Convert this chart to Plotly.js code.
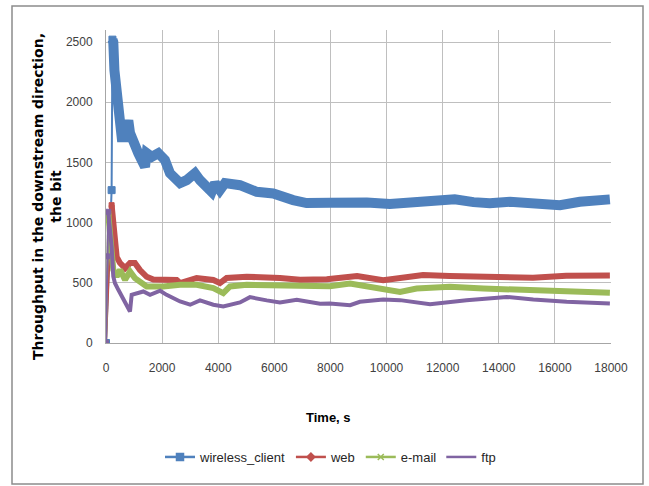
<!DOCTYPE html>
<html>
<head>
<meta charset="utf-8">
<script src="https://cdn.plot.ly/plotly-3.0.1.min.js"></script>
<style>
html,body{margin:0;padding:0;background:#fff;}
#chart{width:649px;height:486px;}
</style>
</head>
<body>
<div id="chart"></div>
<script>
// ---- data ----
const seriesNames = ["wireless_client", "web", "e-mail", "ftp"];

const wcT = [0,200,230,260,300,345,415,440,500,560,680,740,795,855,975,1150,1270,1390,1450,1630,1865,2100,2280,2460,2640,2875,3170,3350,3530,3765,3885,4060,4240,4775,5370,5960,6670,7150,7980,8700,9300,10120,10800,11540,12430,13100,13680,14400,15470,16180,16890,17500,17960];
const wcV = [0,1270,2520,2500,2265,2130,2130,1935,1850,1710,1710,1850,1850,1745,1660,1577,1520,1463,1577,1546,1577,1520,1410,1353,1328,1353,1410,1353,1297,1256,1328,1270,1328,1311,1256,1242,1187,1162,1165,1170,1168,1154,1165,1173,1193,1170,1160,1173,1150,1145,1173,1180,1193];

const webT = [0,200,260,320,380,500,680,855,1030,1210,1450,1690,2040,2520,2640,3230,3825,4060,4300,5015,6200,6915,7870,8950,9880,10480,11300,12250,13440,14620,15220,16400,17960];
const webV = [0,1145,1000,800,716,664,622,664,664,606,550,528,523,523,498,540,523,498,540,550,540,525,530,556,522,536,564,556,550,542,542,558,560];

const emT = [0,80,260,380,500,680,855,1030,1210,1450,2040,2640,3230,3825,4180,4420,5015,6200,7390,7980,8700,9050,9880,10480,11070,12260,13450,15230,17960];
const emV = [0,1077,608,552,608,525,594,539,511,470,470,483,483,456,414,470,483,475,464,472,494,480,439,425,453,467,453,439,417];

const ftpT = [0,40,80,200,260,320,440,620,855,915,1150,1330,1570,1930,2160,2640,3000,3350,3825,4180,4775,5130,5730,6200,6800,7630,7980,8700,9050,9880,10480,11550,12850,14280,15230,16420,17960];
const ftpV = [0,720,1090,800,552,497,442,359,262,400,414,428,400,434,400,345,318,354,318,304,337,381,354,337,359,326,328,314,342,361,356,322,356,383,361,342,328];

const xTicks = [0,2000,4000,6000,8000,10000,12000,14000,16000,18000];
const yTicks = [0,500,1000,1500,2000,2500];

// ---- styles ----
const colors = ["#4F81BD", "#C0504D", "#9BBB59", "#8064A2"];
const bandW = [10, 6, 6, 4];
const symbols = ["square", "diamond", "x-thin", "line-ew"];
const splitAt = [2, 1, 1, 2];
const allT = [wcT, webT, emT, ftpT];
const allV = [wcV, webV, emV, ftpV];

const traces = [];
for (let i = 0; i < 4; i++) {
  const t = allT[i], v = allV[i], s = splitAt[i];
  traces.push({
    x: t.slice(0, s + 1), y: v.slice(0, s + 1), type: "scatter", mode: "lines+markers",
    line: {color: colors[i], width: 2},
    marker: {color: colors[i], size: i === 0 ? 7 : 5, symbol: "square",
             line: {color: colors[i], width: 1}},
    showlegend: false, hoverinfo: "skip"
  });
  traces.push({
    x: t.slice(s), y: v.slice(s), type: "scatter", mode: "lines",
    line: {color: colors[i], width: bandW[i]},
    showlegend: false, hoverinfo: "skip"
  });
}
for (let i = 0; i < 4; i++) {
  traces.push({
    x: [null], y: [null], type: "scatter",
    mode: i === 3 ? "lines" : "lines+markers",
    name: seriesNames[i],
    line: {color: colors[i], width: 2.5},
    marker: {color: colors[i], size: i === 0 ? 7 : 6, symbol: symbols[i],
             line: {color: colors[i], width: 1.5}}
  });
}

const sans = "Liberation Sans, Arial, sans-serif";
const tickFont = {family: sans, size: 12, color: "#404040"};
const L = 106, R = 611, T = 30, B = 343;
const px = (x) => (x - L) / (R - L);
const py = (y) => (B - y) / (B - T);

const layout = {
  width: 649, height: 486,
  margin: {l: L, r: 649 - R, t: T, b: 486 - B, pad: 0},
  paper_bgcolor: "#ffffff", plot_bgcolor: "#ffffff",
  showlegend: true,
  xaxis: {
    range: [0, 18000], tickvals: xTicks, ticktext: xTicks.map(String),
    showgrid: true, gridcolor: "#bfbfbf", gridwidth: 1,
    showline: true, linecolor: "#a6a6a6", linewidth: 1,
    zeroline: false, ticks: "", tickfont: tickFont, ticklabelstandoff: 14
  },
  yaxis: {
    range: [0, 2600], tickvals: yTicks, ticktext: yTicks.map(String),
    showgrid: true, gridcolor: "#bfbfbf", gridwidth: 1,
    showline: true, linecolor: "#a6a6a6", linewidth: 1,
    zeroline: false, ticks: "", tickfont: tickFont, ticklabelstandoff: 10
  },
  legend: {
    orientation: "h", x: px(160), xanchor: "left", y: py(457), yanchor: "middle",
    font: {family: sans, size: 13, color: "#262626"},
    bgcolor: "rgba(0,0,0,0)", itemwidth: 30
  },
  annotations: [
    {text: "Throughput in the downstream direction,<br>the bit", textangle: -90,
     xref: "paper", yref: "paper", x: px(47), y: py(197), xanchor: "center", yanchor: "middle",
     showarrow: false, align: "center",
     font: {family: "DejaVu Sans, sans-serif", size: 14, color: "#000000", weight: "bold"}},
    {text: "Time, s", xref: "paper", yref: "paper", x: px(328), y: py(417),
     xanchor: "center", yanchor: "middle", showarrow: false,
     font: {family: sans, size: 13, color: "#000000", weight: "bold"}}
  ],
  shapes: [
    {type: "rect", xref: "paper", yref: "paper", x0: px(12), x1: px(643), y0: py(484), y1: py(6),
     line: {color: "#8c8c8c", width: 1.5}, fillcolor: "rgba(0,0,0,0)", layer: "below"}
  ]
};

Plotly.newPlot("chart", traces, layout, {staticPlot: true, displayModeBar: false});
</script>
</body>
</html>
